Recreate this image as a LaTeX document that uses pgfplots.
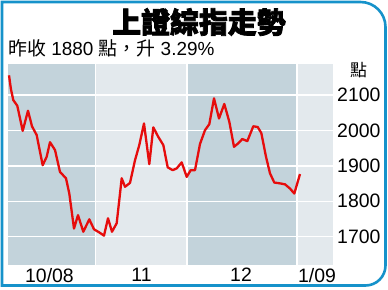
\documentclass[border=0pt]{standalone}
\usepackage{pgfplots}
\pgfplotsset{compat=1.18}
\usepackage{fontspec}
\setmainfont{Liberation Sans}
\newfontfamily\cjk{Noto Sans CJK TC}[BoldFeatures={FakeBold=2.5}]
\definecolor{frameblue}{RGB}{22,146,202}
\definecolor{banddark}{RGB}{195,211,219}
\definecolor{bandlight}{RGB}{227,233,237}
\definecolor{linered}{RGB}{230,12,12}
\begin{document}
\begin{tikzpicture}[x=1bp,y=1bp]
\useasboundingbox (0,0) rectangle (388,290);
\begin{axis}[
  at={(8bp,25bp)}, anchor=south west,
  scale only axis, width=325bp, height=201bp,
  xmin=8, xmax=333, ymin=1620, ymax=2188,
  axis line style={draw=none},
  tick style={draw=none},
  xtick={49.5,141.5,241,317},
  xticklabels={10/08,11,12,1/09},
  ytick={1700,1800,1900,2000,2100},
  yticklabel pos=right,
  /pgf/number format/assume math mode=true,
  /pgf/number format/1000 sep={},
  ticklabel style={font=\fontsize{19.5}{20}\selectfont},
  yticklabel style={anchor=west, inner sep=0pt, xshift=4bp},
  xticklabel style={anchor=north, inner sep=0pt, yshift=-3bp},
  clip=false,
]
% bands
\addplot[fill=banddark, draw=none] coordinates {(8,1620)(95.5,1620)(95.5,2188)(8,2188)} -- cycle;
\addplot[fill=bandlight, draw=none] coordinates {(95.5,1620)(186.7,1620)(186.7,2188)(95.5,2188)} -- cycle;
\addplot[fill=banddark, draw=none] coordinates {(186.7,1620)(296.7,1620)(296.7,2188)(186.7,2188)} -- cycle;
\addplot[fill=bandlight, draw=none] coordinates {(296.7,1620)(333,1620)(333,2188)(296.7,2188)} -- cycle;
% grid
\addplot[white, line width=1.6bp] coordinates {(8,1700)(333,1700)};
\addplot[white, line width=1.6bp] coordinates {(8,1800)(333,1800)};
\addplot[white, line width=1.6bp] coordinates {(8,1900)(333,1900)};
\addplot[white, line width=1.6bp] coordinates {(8,2000)(333,2000)};
\addplot[white, line width=1.6bp] coordinates {(8,2100)(333,2100)};
\addplot[white, line width=1.6bp] coordinates {(95.5,1620)(95.5,2188)};
\addplot[white, line width=1.6bp] coordinates {(186.7,1620)(186.7,2188)};
\addplot[white, line width=1.6bp] coordinates {(296.7,1620)(296.7,2188)};
% index
\addplot[linered, line width=2.3bp, line join=round] coordinates {
(9,2156)(11,2116)(13.3,2086)(17.3,2070)(22.7,1999)(28,2056)(32,2012)(36.7,1987)
(42.7,1902)(46.7,1926)(50,1967)(55,1945)(60,1883)(66,1865)(69.3,1822)(74,1723)
(78,1761)(83.3,1714)(89.3,1749)(94,1721)(99.3,1712)(104,1703)(108,1752)(112,1714)
(116.7,1738)(121.7,1865)(125,1841)(130,1852)(135,1916)(139.3,1959)(144,2020)
(149.3,1905)(153.3,2009)(158.3,1982)(163.3,1959)(167.7,1896)(172.7,1888)(176.7,1893)
(181.7,1910)(186.7,1869)(190.7,1888)(195,1888)(200,1962)(205,2001)(209.3,2018)
(214,2091)(219,2034)(224.3,2075)(229.3,2025)(234,1954)(238.3,1964)(242.3,1976)
(247.3,1970)(253.3,2012)(257.7,2010)(261.3,1993)(266,1926)(270,1879)(274.3,1853)
(279.3,1851)(285,1848)(290,1836)(294.3,1822)(300,1877)};
\end{axis}
% frame
\draw[frameblue, line width=2.6bp] (2,4.5) -- (2,288) -- (360.5,288)
  arc[start angle=90, end angle=0, radius=25] -- (385.5,24.5)
  arc[start angle=0, end angle=-90, radius=20] -- cycle;
% titles
\node[inner sep=0pt] at (199,268) {\fontsize{29}{30}\selectfont\cjk\bfseries 上證綜指走勢};
\node[anchor=base west, inner sep=0pt] at (8,235) {\fontsize{19}{20}\selectfont{\cjk 昨收} 1880 {\cjk 點，升} 3.29\%};
\node[inner sep=0pt] at (358.5,220) {\fontsize{17}{18}\selectfont\cjk 點};
\end{tikzpicture}
\end{document}
